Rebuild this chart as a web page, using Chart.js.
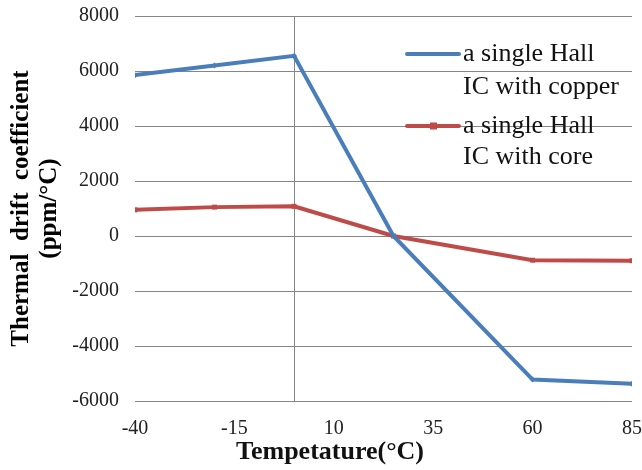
<!DOCTYPE html>
<html>
<head>
<meta charset="utf-8">
<script src="https://cdn.jsdelivr.net/npm/chart.js@4.4.1/dist/chart.umd.min.js"></script>
<style>
  html, body { margin: 0; padding: 0; background: #fff; }
  #wrap { width: 642px; height: 470px; }
</style>
</head>
<body>
<div id="wrap"><canvas id="chart" width="642" height="470"></canvas></div>
<script>
// dati
const temps = [-40, -20, 0, 25, 60, 85];
const copperDrift = [5850, 6200, 6550, 0, -5220, -5370];
const coreDrift = [950, 1050, 1080, 0, -880, -900];
const seriesNames = [['a single Hall', 'IC with copper'], ['a single Hall', 'IC with core']];
const xTicks = [-40, -15, 10, 35, 60, 85];
const yTitle = ['Thermal  drift  coefficient', '(ppm/\u00B0C)'];
const xTitle = 'Tempetature(\u00B0C)';

const BLUE = '#4a7ebb';
const RED = '#be4b48';
const SERIF = "'Liberation Serif', 'Times New Roman', serif";

function toPoints(ys) {
  return temps.map((t, i) => ({ x: t, y: ys[i] }));
}

// linea verticale a x = 0, legenda interna e titolo asse x
const extras = {
  id: 'extras',
  beforeDatasetsDraw(chart) {
    const { ctx, chartArea } = chart;
    const x0 = chart.scales.x.getPixelForValue(0);
    ctx.save();
    ctx.strokeStyle = '#868686';
    ctx.lineWidth = 1;
    ctx.beginPath();
    ctx.moveTo(Math.round(x0) + 0.5, chartArea.top);
    ctx.lineTo(Math.round(x0) + 0.5, chartArea.bottom);
    ctx.stroke();
    ctx.restore();
  },
  afterDraw(chart) {
    const { ctx } = chart;
    ctx.save();
    const colors = [BLUE, RED];
    const rows = [[54, 87], [126, 157]];
    ctx.font = '26px ' + SERIF;
    ctx.textBaseline = 'middle';
    seriesNames.forEach((lines, i) => {
      ctx.strokeStyle = colors[i];
      ctx.lineWidth = 4;
      ctx.lineCap = 'round';
      ctx.beginPath();
      ctx.moveTo(407, rows[i][0]);
      ctx.lineTo(459, rows[i][0]);
      ctx.stroke();
      ctx.fillStyle = colors[i];
      if (i === 1) ctx.fillRect(430, rows[i][0] - 3.5, 7, 7);
      ctx.fillStyle = '#111';
      ctx.fillText(lines[0], 463, rows[i][0]);
      ctx.fillText(lines[1], 463, rows[i][1]);
    });
    ctx.font = 'bold 26px ' + SERIF;
    ctx.textAlign = 'center';
    ctx.fillText(xTitle, 330, 452);
    ctx.restore();
  }
};

new Chart(document.getElementById('chart'), {
  type: 'line',
  data: {
    datasets: [
      { data: toPoints(copperDrift), borderColor: BLUE, backgroundColor: BLUE, borderWidth: 4,
        pointStyle: 'rectRot', pointRadius: 3, pointBorderWidth: 0, tension: 0 },
      { data: toPoints(coreDrift), borderColor: RED, backgroundColor: RED, borderWidth: 4,
        pointStyle: 'rect', pointRadius: 3.5, pointBorderWidth: 0, tension: 0 }
    ]
  },
  options: {
    responsive: false,
    animation: false,
    layout: { padding: { left: 0, right: 10, top: 16, bottom: 0 } },
    plugins: { legend: { display: false }, tooltip: { enabled: false } },
    scales: {
      x: {
        type: 'linear', min: -40, max: 85,
        afterBuildTicks: (s) => { s.ticks = xTicks.map(v => ({ value: v })); },
        afterFit: (s) => { s.height = 69; s.paddingLeft = 0; s.paddingRight = 0; },
        grid: { display: false },
        border: { display: false },
        ticks: { color: '#222', padding: 8, maxRotation: 0, font: { family: SERIF, size: 20 } }
      },
      y: {
        min: -6000, max: 8000,
        afterFit: (s) => { s.width = 135; s.paddingTop = 0; s.paddingBottom = 0; },
        grid: { color: '#868686', lineWidth: 1, drawTicks: false },
        border: { display: false },
        ticks: { stepSize: 2000, color: '#222', padding: 16, font: { family: SERIF, size: 20 },
          callback: (v) => String(v) },
        title: {
          display: true, text: yTitle, color: '#000',
          font: { family: SERIF, size: 25, weight: 'bold', lineHeight: 1.1 },
          padding: { top: 8, bottom: 0 }
        }
      }
    }
  },
  plugins: [extras]
});
</script>
</body>
</html>
